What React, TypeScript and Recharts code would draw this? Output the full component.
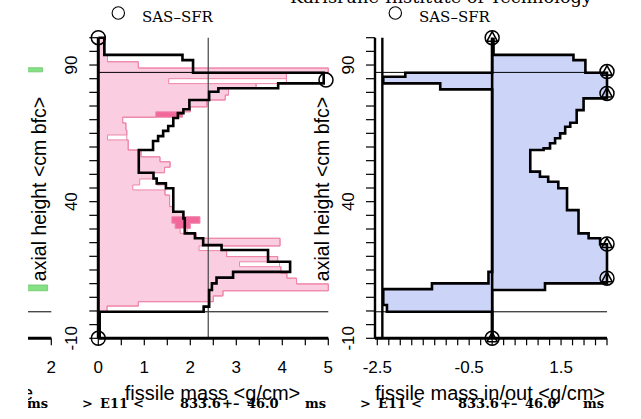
import React from 'react';
import { ComposedChart, Area, Line, Scatter, XAxis, YAxis, ReferenceLine } from 'recharts';

// ---------------- data ----------------
const yTicks = [-10, -5, 0, 5, 10, 15, 20, 25, 30, 35, 40, 45, 50, 55, 60, 65, 70, 75, 80, 85, 90, 95, 100];
const yLabels = [-10, 40, 90];
const leftXTicks = [0, 0.5, 1, 1.5, 2, 2.5, 3, 3.5, 4, 4.5, 5];
const leftXLabels = [0, 1, 2, 3, 4, 5];
const rightXTicks = [-2.5, -2.25, -2, -1.75, -1.5, -1.25, -1, -0.75, -0.5, -0.25, 0, 0.25, 0.5, 0.75, 1, 1.25, 1.5, 1.75, 2, 2.25, 2.5];
const rightXLabels = [-2.5, -0.5, 1.5];
const thirdXTicks = [-3, -2, -1, 0, 1, 2];
const thirdXLabels = [2];

const coreLevels = [87.3, -0.3];
const leftGuideX = 2.39;
const rightWallX = -2.39;

// left panel: black profile (bin edges, top -> bottom) and bin values
const leftBlackEdges = [100, 93.7, 91.8, 87.2, 83.3, 81.5, 80.2, 77.2, 73.8, 72.4, 70.6, 67.7, 65.9, 64.0, 62.2, 58.9, 50.6, 48.5, 46.7, 44.9, 36.3, 33.9, 28.4, 26.6, 24.1, 22.3, 18.0, 14.3, 12.2, 10.1, 7.7, 1.6, -0.3, -10];
const leftBlackValues = [0.13, 1.83, 2.06, 4.9, 3.91, 2.61, 2.41, 1.98, 1.85, 1.73, 1.63, 1.52, 1.41, 1.30, 1.19, 0.88, 1.20, 1.27, 1.47, 1.63, 1.85, 1.88, 2.10, 2.28, 2.68, 3.69, 4.17, 2.93, 2.57, 2.47, 2.41, 2.29, 0.03];

// left panel: pink profiles
const pinkEdges = [100, 93.7, 91.2, 88.9, 87.2, 85.0, 83.2, 81.5, 79.0, 77.2, 74.7, 72.9, 70.9, 68.8, 66.2, 64.4, 62.6, 58.9, 56.4, 54.6, 52.6, 50.6, 48.3, 46.1, 44.3, 42.4, 38.2, 36.3, 34.5, 32.1, 30.2, 28.4, 26.6, 23.8, 22.1, 19.9, 18.0, 16.2, 13.8, 12.0, 9.9, 7.4, 5.5, 3.4, 1.8, -0.3];
const pinkFillValues = [0.15, 0.2, 0.87, 5.0, 4.09, 1.53, 3.43, 2.83, 2.76, 2.36, 2.0, 1.25, 0.53, 0.6, 0.62, 0.2, 0.65, 0.93, 1.34, 1.56, 1.44, 1.2, 0.9, 0.75, 1.45, 1.55, 1.63, 1.85, 1.6, 1.67, 1.78, 2.13, 3.95, 2.19, 2.79, 3.9, 3.07, 3.97, 4.1, 4.31, 5.0, 2.71, 2.5, 0.87, 0.19];
const pinkOutlineValues = [0.15, 0.2, 0.87, 5.0, 4.09, 4.09, 3.43, 2.83, 2.76, 2.36, 2.0, 1.83, 0.53, 0.6, 0.62, 0.62, 0.65, 0.93, 1.34, 1.56, 1.44, 1.2, 1.27, 1.47, 1.45, 1.55, 1.63, 1.85, 2.21, 2.0, 1.93, 2.13, 3.95, 2.68, 2.79, 3.9, 3.94, 3.97, 4.1, 4.31, 5.0, 2.71, 2.5, 0.87, 0.19];
const darkPinkEdges = [100, 72.9, 70.9, 34.5, 32.1, 30.2, -10];
const darkPinkValues = [0, 1.83, 0, 2.21, 2.0, 0];

// right panel: out (positive) and in (negative) profiles
const rightOutEdges = [100, 93.7, 91.8, 87.2, 77.8, 73.5, 68.9, 67.4, 65.0, 63.2, 61.4, 59.5, 58.9, 51.0, 49.1, 47.3, 44.9, 36.9, 28.4, 26.6, 24.4, 10.1, 7.7, -10];
const rightOutValues = [0.03, 1.77, 2.03, 2.5, 1.99, 1.84, 1.70, 1.59, 1.48, 1.37, 1.26, 1.12, 0.83, 1.04, 1.22, 1.44, 1.63, 1.88, 2.1, 2.35, 2.5, 1.15, 0];
const rightInEdges = [100, 87.2, 85.7, 83.3, 81.1, 14.3, 10.1, 8.0, 2.2, -0.3, -10];
const rightInValues = [0, -1.89, -2.37, -1.13, 0, -0.08, -1.31, -2.37, -2.29, 0];

// third (cut-off) panel: green profile
const greenEdges = [100, 89.0, 87.5, 9.5, 7.4, -10];
const greenValues = [0, 1.81, 0, 1.92, 0];

// markers
const leftMarkerX = [0, 0, 4.95];
const leftMarkerY = [100, -10, 84.5];
const rightMarkerX = [0, 0, 2.5, 2.5, 2.5, 2.5];
const rightMarkerY = [100, -10, 87.6, 79.6, 24.5, 12.0];

const legendLabel = 'SAS–SFR';
const xTitleLeft = 'fissile mass <g/cm>';
const xTitleRight = 'fissile mass in/out <g/cm>';
const yTitle = 'axial height <cm bfc>';
const statTokens = ['>', 'E11', '<', '833.6', '+–', '46.0', 'ms'];
const statOffsets = [0, 18, 51, 98, 140, 165, 223];

// ---------------- helpers ----------------
const W = 641;
const H = 419;
const TOP = 37.7;
const BOTTOM = 338.3;
const YW = 40;
const XH = 40;
const SANS = "'Liberation Sans', Arial, Helvetica, sans-serif";
const SERIF = "'DejaVu Serif', 'Liberation Serif', serif";

function steps(edges: number[], values: number[], key: string) {
  const out: any[] = [];
  values.forEach((v, i) => {
    out.push({ y: edges[i], [key]: v });
    out.push({ y: edges[i + 1], [key]: v });
  });
  return out;
}

const makeXTick = (labels: number[]) => (props: any) => {
  const { x, y, payload } = props;
  if (!labels.includes(payload.value)) return <g />;
  return (
    <text x={x} y={y + 26} textAnchor="middle" fontSize={17} fontFamily={SANS} fill="#000">
      {String(payload.value)}
    </text>
  );
};

const makeYTick = (labels: number[]) => (props: any) => {
  const { x, y, payload } = props;
  if (!labels.includes(payload.value)) return <g />;
  return (
    <text
      transform={`translate(${x - 16},${y}) rotate(-90)`}
      textAnchor="middle"
      dominantBaseline="central"
      fontSize={17}
      fontFamily={SANS}
      fill="#000"
    >
      {String(payload.value)}
    </text>
  );
};

const CircleMarker = (props: any) => (
  <circle cx={props.cx} cy={props.cy} r={7} fill="none" stroke="#000" strokeWidth={1.5} />
);

const TriMarker = (props: any) => {
  const { cx, cy } = props;
  return (
    <g>
      <circle cx={cx} cy={cy} r={7} fill="none" stroke="#000" strokeWidth={1.5} />
      <path d={`M${cx},${cy - 6} L${cx + 5.2},${cy + 3.5} L${cx - 5.2},${cy + 3.5} Z`} fill="none" stroke="#000" strokeWidth={1.6} />
    </g>
  );
};

function frame(left: number, right: number, domain: number[], xTicks: number[], xLabels: number[], rows: any[], children: React.ReactNode, yAxisWidth = 3, showYLabels = true) {
  return (
    <ComposedChart
      layout="vertical"
      width={W}
      height={H}
      data={rows}
      margin={{ top: TOP, bottom: H - BOTTOM - XH, left: left - YW, right: W - right }}
    >
      <XAxis
        type="number"
        domain={domain}
        ticks={xTicks}
        interval={0}
        height={XH}
        tickSize={7}
        tick={makeXTick(xLabels)}
        axisLine={{ stroke: '#000', strokeWidth: 3 }}
        tickLine={{ stroke: '#000', strokeWidth: 1.2 }}
      />
      <YAxis
        type="number"
        dataKey="y"
        reversed
        domain={[-10, 100]}
        ticks={yTicks}
        interval={0}
        width={YW}
        tickSize={9}
        tick={showYLabels ? makeYTick(yLabels) : false}
        axisLine={{ stroke: '#000', strokeWidth: yAxisWidth }}
        tickLine={{ stroke: '#000', strokeWidth: 1.2 }}
      />
      {children}
    </ComposedChart>
  );
}

const leftRows = [
  ...steps(darkPinkEdges, darkPinkValues, 'dark'),
  ...steps(pinkEdges, pinkFillValues, 'fill'),
  ...steps(pinkEdges, pinkOutlineValues, 'outline'),
  { y: leftBlackEdges[0], black: 0 },
  ...steps(leftBlackEdges, leftBlackValues, 'black'),
];
const rightRows = [
  ...steps(rightOutEdges, rightOutValues, 'out'),
  ...steps(rightInEdges, rightInValues, 'in'),
];
const thirdRows = steps(greenEdges, greenValues, 'green');
const leftMarkers = leftMarkerX.map((v, i) => ({ v, y: leftMarkerY[i] }));
const rightMarkers = rightMarkerX.map((v, i) => ({ v, y: rightMarkerY[i] }));

function StatLine({ x0, y }: { x0: number; y: number }) {
  return (
    <g>
      {statTokens.map((t, i) => (
        <text key={i} x={x0 + statOffsets[i]} y={y} fontFamily={SERIF} fontWeight="bold" fontSize={13} fill="#000">
          {t}
        </text>
      ))}
    </g>
  );
}

export default function App() {
  return (
    <div style={{ position: 'absolute', left: 0, top: 0, width: W, height: H, background: '#fff', overflow: 'hidden' }}>
      {/* cut-off third panel */}
      <div style={{ position: 'absolute', left: 28, top: 0, width: 30, height: H, overflow: 'hidden' }}>
        <div style={{ position: 'absolute', left: -305, top: 0 }}>
          {frame(98.3, 328.3, [-3, 2], thirdXTicks, thirdXLabels, thirdRows, [
            <Area key="g" dataKey="green" type="linear" connectNulls baseValue={0} fill="#86e086" fillOpacity={1} stroke="#6cc46c" strokeWidth={0.8} dot={false} activeDot={false} isAnimationActive={false} />,
            <ReferenceLine key="r" y={coreLevels[1]} stroke="#000" strokeWidth={1} />,
          ], 3, false)}
        </div>
        <svg width={30} height={H} style={{ position: 'absolute', left: 0, top: 0 }}>
          <text x={33 - 28} y={400} textAnchor="end" fontFamily={SANS} fontSize={20} fill="#000">e</text>
          <text x={-1} y={408} fontFamily={SERIF} fontWeight="bold" fontSize={13} fill="#000">ms</text>
        </svg>
      </div>

      {/* left panel */}
      <div style={{ position: 'absolute', left: 0, top: 0 }}>
        {frame(98.3, 328.3, [0, 5], leftXTicks, leftXLabels, leftRows, [
          <Area key="dk" dataKey="dark" type="linear" connectNulls baseValue={0} fill="#f2689a" fillOpacity={1} stroke="none" dot={false} activeDot={false} isAnimationActive={false} />,
          <Area key="pf" dataKey="fill" type="linear" connectNulls baseValue={0} fill="#fbcde0" fillOpacity={1} stroke="#ee86a8" strokeWidth={1} dot={false} activeDot={false} isAnimationActive={false} />,
          <Line key="po" dataKey="outline" type="linear" connectNulls stroke="#ee86a8" strokeWidth={1} dot={false} activeDot={false} isAnimationActive={false} />,
          <ReferenceLine key="c1" y={coreLevels[0]} stroke="#000" strokeWidth={1} />,
          <ReferenceLine key="c2" y={coreLevels[1]} stroke="#000" strokeWidth={1} />,
          <ReferenceLine key="gx" x={leftGuideX} stroke="#444" strokeWidth={1.2} />,
          <Line key="bk" dataKey="black" type="linear" connectNulls stroke="#000" strokeWidth={2.6} dot={false} activeDot={false} isAnimationActive={false} />,
          <Scatter key="m" data={leftMarkers} dataKey="v" shape={CircleMarker} isAnimationActive={false} />,
        ])}
      </div>

      {/* right panel */}
      <div style={{ position: 'absolute', left: 0, top: 0 }}>
        {frame(375, 607, [-2.55, 2.5], rightXTicks, rightXLabels, rightRows, [
          <Area key="o" dataKey="out" type="linear" connectNulls baseValue={0} fill="#ccd5f8" fillOpacity={1} stroke="#000" strokeWidth={2.6} dot={false} activeDot={false} isAnimationActive={false} />,
          <Area key="i" dataKey="in" type="linear" connectNulls baseValue={0} fill="#ccd5f8" fillOpacity={1} stroke="#000" strokeWidth={2.6} dot={false} activeDot={false} isAnimationActive={false} />,
          <ReferenceLine key="c1" y={coreLevels[0]} stroke="#000" strokeWidth={1} />,
          <ReferenceLine key="c2" y={coreLevels[1]} stroke="#000" strokeWidth={1} />,
          <ReferenceLine key="z" x={0} stroke="#000" strokeWidth={2.6} />,
          <ReferenceLine key="w" x={rightWallX} stroke="#000" strokeWidth={2.4} />,
          <Scatter key="m" data={rightMarkers} dataKey="v" shape={TriMarker} isAnimationActive={false} />,
        ], 2.4)}
      </div>

      {/* text overlay */}
      <svg width={W} height={H} style={{ position: 'absolute', left: 0, top: 0, pointerEvents: 'none' }}>
        <text x={290} y={3} fontFamily={SERIF} fontSize={17} textLength={302} lengthAdjust="spacingAndGlyphs" fill="#000">
          Karlsruhe Institute of Technology
        </text>
        {[0, 277].map((dx) => (
          <g key={dx}>
            <circle cx={118.3 + dx} cy={13} r={6.2} fill="none" stroke="#000" strokeWidth={1.1} />
            <text x={142 + dx} y={21.5} fontFamily={SERIF} fontSize={15} fill="#000">{legendLabel}</text>
          </g>
        ))}
        <text transform="translate(46,189) rotate(-90)" textAnchor="middle" fontFamily={SANS} fontSize={19.5} fill="#000">{yTitle}</text>
        <text transform="translate(329,189) rotate(-90)" textAnchor="middle" fontFamily={SANS} fontSize={19.5} fill="#000">{yTitle}</text>
        <text x={212.5} y={400} textAnchor="middle" fontFamily={SANS} fontSize={20} fill="#000">{xTitleLeft}</text>
        <text x={490} y={400} textAnchor="middle" fontFamily={SANS} fontSize={20} fill="#000">{xTitleRight}</text>
        <StatLine x0={82} y={408} />
        <StatLine x0={360} y={408} />
      </svg>
    </div>
  );
}
